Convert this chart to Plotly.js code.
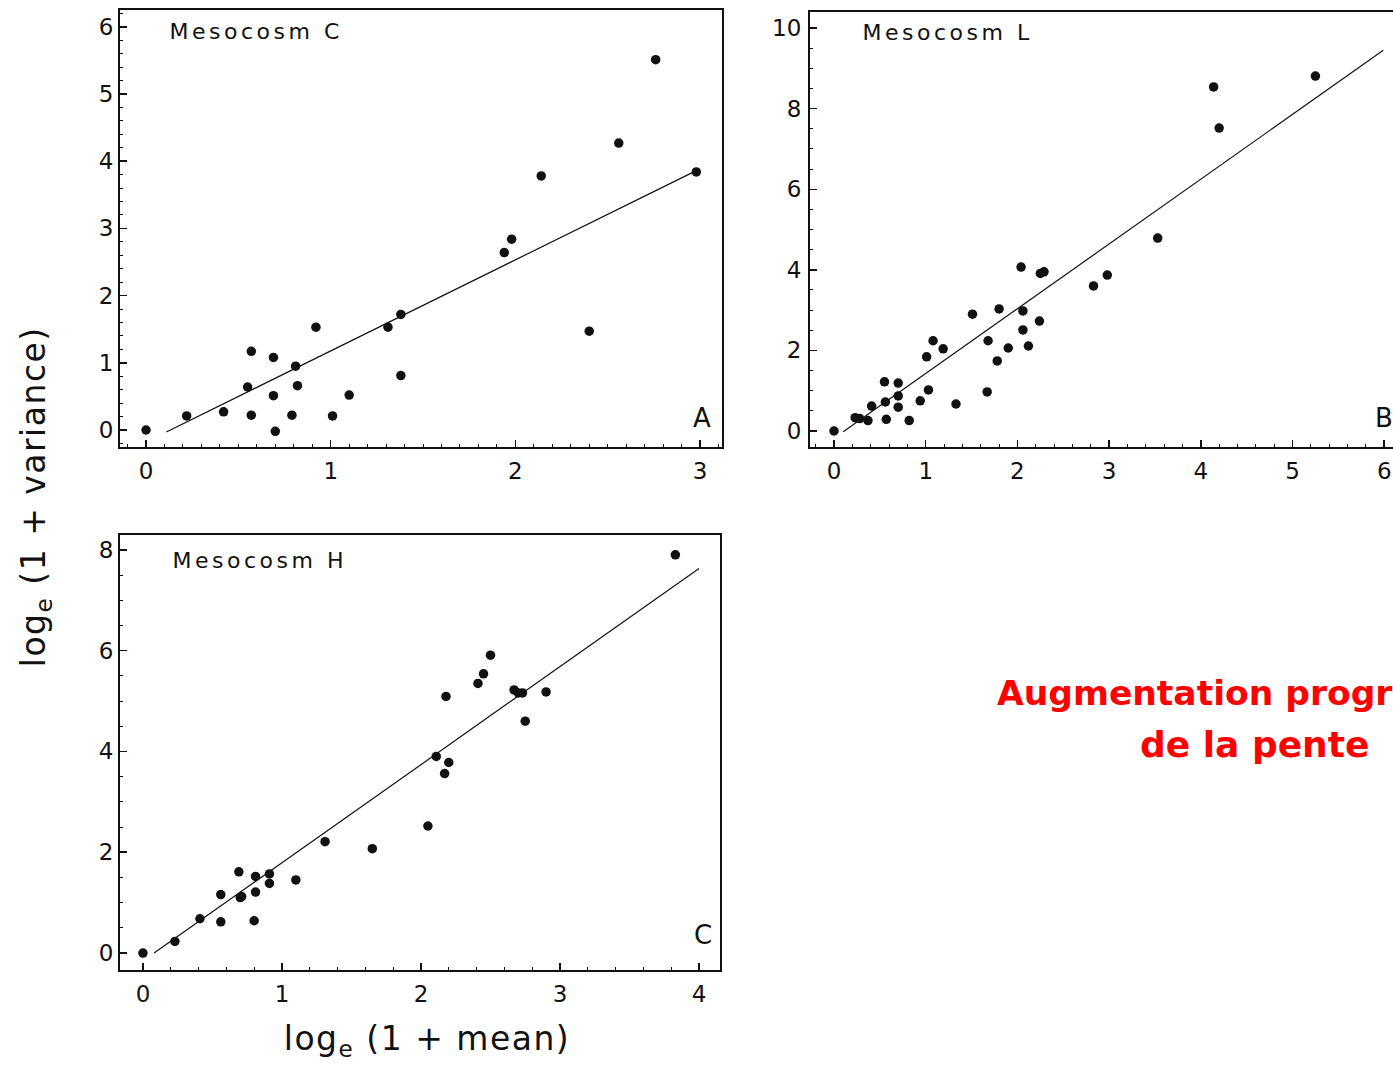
<!DOCTYPE html>
<html>
<head>
<meta charset="utf-8">
<script src="https://cdn.plot.ly/plotly-3.0.1.min.js"></script>
<style>
html, body { margin: 0; padding: 0; background: #fff; overflow: hidden; }
#chart { width: 1393px; height: 1066px; }
</style>
</head>
<body>
<div id="chart"></div>
<script>
// Mesocosm C (panel A)
const meanC = [0, 0.22, 0.42, 0.55, 0.57, 0.57, 0.69, 0.69, 0.70, 0.79, 0.81, 0.82, 0.92, 1.01, 1.10, 1.31, 1.38, 1.38, 1.94, 1.98, 2.14, 2.40, 2.56, 2.76, 2.98];
const varC  = [0, 0.21, 0.27, 0.64, 1.17, 0.22, 1.08, 0.51, -0.02, 0.22, 0.95, 0.66, 1.53, 0.21, 0.52, 1.53, 1.72, 0.81, 2.64, 2.84, 3.78, 1.47, 4.27, 5.51, 3.84];
const fitC_x = [0.11, 2.98];
const fitC_y = [-0.03, 3.86];

// Mesocosm L (panel B)
const meanL = [0, 0.23, 0.28, 0.37, 0.41, 0.55, 0.56, 0.57, 0.70, 0.70, 0.70, 0.82, 0.94, 1.01, 1.03, 1.08, 1.19, 1.33, 1.51, 1.67, 1.68, 1.78, 1.80, 1.90, 2.04, 2.06, 2.06, 2.12, 2.24, 2.25, 2.29, 2.83, 2.98, 3.53, 4.14, 4.20, 5.25];
const varL  = [0, 0.33, 0.31, 0.26, 0.62, 1.22, 0.72, 0.29, 1.19, 0.87, 0.59, 0.26, 0.75, 1.84, 1.02, 2.24, 2.04, 0.67, 2.90, 0.97, 2.24, 1.74, 3.03, 2.06, 4.07, 2.98, 2.51, 2.11, 2.73, 3.91, 3.95, 3.60, 3.87, 4.79, 8.54, 7.52, 8.81];
const fitL_x = [0.10, 5.99];
const fitL_y = [-0.02, 9.45];

// Mesocosm H (panel C)
const meanH = [0, 0.23, 0.41, 0.56, 0.56, 0.69, 0.70, 0.71, 0.80, 0.81, 0.81, 0.91, 0.91, 1.10, 1.31, 1.65, 2.05, 2.11, 2.17, 2.18, 2.20, 2.41, 2.45, 2.50, 2.67, 2.70, 2.73, 2.75, 2.90, 3.83];
const varH  = [0, 0.23, 0.68, 1.16, 0.62, 1.61, 1.10, 1.12, 0.64, 1.52, 1.21, 1.57, 1.38, 1.45, 2.21, 2.07, 2.52, 3.90, 3.56, 5.09, 3.78, 5.35, 5.54, 5.91, 5.22, 5.16, 5.16, 4.60, 5.18, 7.90];
const fitH_x = [0.08, 4.00];
const fitH_y = [0.0, 7.63];

const panelTitles = ["Mesocosm C", "Mesocosm L", "Mesocosm H"];
const panelLetters = ["A", "B", "C"];
const xTitle = "log<sub>e</sub> (1 + mean)";
const yTitle = "log<sub>e</sub> (1 + variance)";
const noteLine1 = "Augmentation progressive";
const noteLine2 = "de la pente";

const W = 1393, H = 1066;
const px = v => v / W;
const py = v => 1 - v / H;

const ink = "#111";
const marker = { color: ink, size: 9.5, symbol: "circle" };
const fitLine = { color: ink, width: 1.2 };

const traces = [
  { x: meanC, y: varC, xaxis: "x", yaxis: "y", mode: "markers", type: "scatter", marker: marker },
  { x: fitC_x, y: fitC_y, xaxis: "x", yaxis: "y", mode: "lines", type: "scatter", line: fitLine },
  { x: meanL, y: varL, xaxis: "x2", yaxis: "y2", mode: "markers", type: "scatter", marker: marker },
  { x: fitL_x, y: fitL_y, xaxis: "x2", yaxis: "y2", mode: "lines", type: "scatter", line: fitLine },
  { x: meanH, y: varH, xaxis: "x3", yaxis: "y3", mode: "markers", type: "scatter", marker: marker },
  { x: fitH_x, y: fitH_y, xaxis: "x3", yaxis: "y3", mode: "lines", type: "scatter", line: fitLine }
];

const tickFont = { family: "DejaVu Sans", size: 23, color: ink };

function axis(opts) {
  return Object.assign({
    showgrid: false, zeroline: false, showline: true, linecolor: ink, linewidth: 2,
    mirror: true, ticks: "inside", ticklen: 7, tickwidth: 1.5, tickcolor: ink,
    tickfont: tickFont, fixedrange: true
  }, opts);
}
function minor(d) {
  return { dtick: d, ticks: "inside", ticklen: 3, tickwidth: 1, tickcolor: ink, showgrid: false };
}

const layout = {
  width: W, height: H,
  margin: { l: 0, r: 0, t: 0, b: 0 },
  paper_bgcolor: "#fff", plot_bgcolor: "#fff",
  showlegend: false,
  font: { family: "DejaVu Sans", color: ink },
  xaxis: axis({ domain: [px(120), px(722)], range: [-0.141, 3.119], dtick: 1, tick0: 0, anchor: "y",
    ticklabelstandoff: 2, minor: minor(0.1) }),
  yaxis: axis({ domain: [py(447), py(10)], range: [-0.253, 6.25], dtick: 1, tick0: 0, anchor: "x",
    ticklabelstandoff: 0, minor: minor(0.2) }),
  xaxis2: axis({ domain: [px(810), 1], range: [-0.262, 6.096], dtick: 1, tick0: 0, anchor: "y2",
    ticklabelstandoff: 2, minor: minor(0.2) }),
  yaxis2: axis({ domain: [py(447), py(12)], range: [-0.397, 10.40], dtick: 2, tick0: 0, anchor: "x2",
    ticklabelstandoff: 2, minor: minor(0.5) }),
  xaxis3: axis({ domain: [px(120), px(720)], range: [-0.165, 4.151], dtick: 1, tick0: 0, anchor: "y3",
    ticklabelstandoff: 2, minor: minor(0.2) }),
  yaxis3: axis({ domain: [py(970), py(535)], range: [-0.337, 8.294], dtick: 2, tick0: 0, anchor: "x3",
    ticklabelstandoff: 0, minor: minor(0.5) }),
  annotations: [
    { text: panelTitles[0], xref: "paper", yref: "paper", x: px(256), y: py(32), xanchor: "center", yanchor: "middle", showarrow: false, font: { family: "DejaVu Sans", size: 22, color: ink } },
    { text: panelTitles[1], xref: "paper", yref: "paper", x: px(948), y: py(33), xanchor: "center", yanchor: "middle", showarrow: false, font: { family: "DejaVu Sans", size: 22, color: ink } },
    { text: panelTitles[2], xref: "paper", yref: "paper", x: px(259), y: py(560), xanchor: "center", yanchor: "middle", showarrow: false, font: { family: "DejaVu Sans", size: 22, color: ink } },
    { text: panelLetters[0], xref: "paper", yref: "paper", x: px(702), y: py(418), xanchor: "center", yanchor: "middle", showarrow: false, font: { family: "DejaVu Sans", size: 26, color: ink } },
    { text: panelLetters[1], xref: "paper", yref: "paper", x: px(1384), y: py(418), xanchor: "center", yanchor: "middle", showarrow: false, font: { family: "DejaVu Sans", size: 26, color: ink } },
    { text: panelLetters[2], xref: "paper", yref: "paper", x: px(703), y: py(935), xanchor: "center", yanchor: "middle", showarrow: false, font: { family: "DejaVu Sans", size: 26, color: ink } },
    { text: yTitle, xref: "paper", yref: "paper", x: px(36), y: py(497), xanchor: "center", yanchor: "middle", textangle: -90, showarrow: false, font: { family: "DejaVu Sans", size: 33, color: ink } },
    { text: xTitle, xref: "paper", yref: "paper", x: px(427), y: py(1040), xanchor: "center", yanchor: "middle", showarrow: false, font: { family: "DejaVu Sans", size: 33, color: ink } },
    { text: "<b>" + noteLine1 + "</b>", xref: "paper", yref: "paper", x: px(995), y: py(693), xanchor: "left", yanchor: "middle", showarrow: false, font: { family: "DejaVu Sans", size: 34.5, color: "#ff0000" } },
    { text: "<b>" + noteLine2 + "</b>", xref: "paper", yref: "paper", x: px(1138), y: py(745), xanchor: "left", yanchor: "middle", showarrow: false, font: { family: "DejaVu Sans", size: 36, color: "#ff0000" } }
  ]
};

Plotly.newPlot("chart", traces, layout, { displayModeBar: false, staticPlot: true }).then(function () {
  document.querySelectorAll(".annotation-text").forEach(function (t) {
    const s = t.textContent;
    if (s.indexOf("Mesocosm") === 0) t.style.letterSpacing = "3.5px";
    else if (s.indexOf("log") === 0) t.style.letterSpacing = "1.5px";
  });
});
</script>
</body>
</html>
